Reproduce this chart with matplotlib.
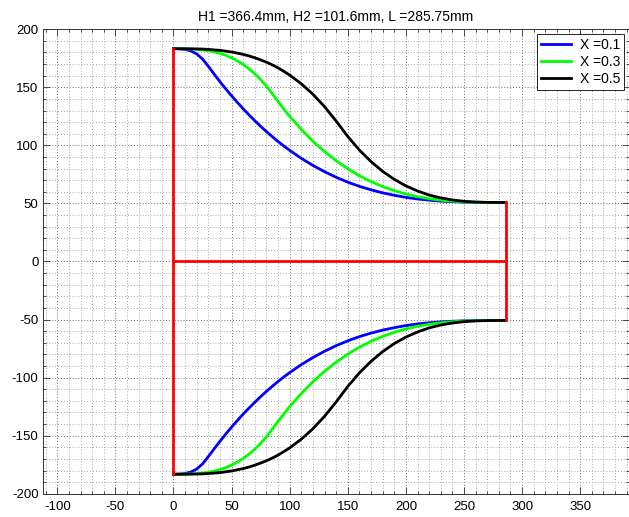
import numpy as np
import matplotlib.pyplot as plt
from matplotlib.ticker import MultipleLocator

plt.rcParams['font.family'] = ['Liberation Sans', 'DejaVu Sans']
plt.rcParams['axes.unicode_minus'] = False

# contraction geometry (mm)
H1 = 366.4
H2 = 101.6
L = 285.75

# stations along the contraction, and upper-wall half height for each match point X
x_pos = [0, 5, 10, 15, 20, 25, 30, 35, 40, 45, 50, 55, 60, 65, 70, 75, 80, 85,
         90, 95, 100, 110, 120, 130, 140, 150, 160, 170, 180, 190, 200, 210,
         220, 230, 240, 250, 260, 270, 280, 285.75]
h_x01 = [183.2, 183.1, 182.6, 181.3, 178.7, 174.3, 168.0, 161.3, 154.8, 148.6,
         142.6, 136.9, 131.4, 126.2, 121.2, 116.4, 111.8, 107.5, 103.3, 99.4,
         95.7, 88.8, 82.7, 77.3, 72.5, 68.3, 64.7, 61.7, 59.1, 57.0,
         55.2, 53.8, 52.8, 52.0, 51.5, 51.1, 50.9, 50.8, 50.8, 50.8]
h_x03 = [183.2, 183.2, 183.1, 183.0, 182.7, 182.2, 181.5, 180.5, 179.2, 177.5,
         175.3, 172.7, 169.6, 165.9, 161.6, 156.6, 150.9, 144.5, 137.7, 131.2,
         125.0, 113.7, 103.5, 94.6, 86.7, 79.8, 73.8, 68.8, 64.5, 61.0,
         58.1, 55.8, 54.1, 52.8, 51.9, 51.3, 51.0, 50.8, 50.8, 50.8]
h_x05 = [183.2, 183.2, 183.2, 183.1, 183.0, 182.9, 182.6, 182.2, 181.8, 181.1,
         180.4, 179.4, 178.3, 177.0, 175.4, 173.6, 171.6, 169.3, 166.7, 163.7,
         160.5, 153.0, 144.0, 133.3, 120.9, 107.6, 95.9, 86.0, 77.6, 70.7,
         65.1, 60.7, 57.2, 54.7, 53.0, 51.8, 51.2, 50.9, 50.8, 50.8]

labels = ['X =0.1', 'X =0.3', 'X =0.5']
colors = ['#0000ff', '#00ff00', '#000000']

fig = plt.figure(figsize=(6.29, 5.17), dpi=100)
ax = fig.add_axes([0.068, 0.045, 0.932, 0.8985])

x = np.array(x_pos)
for h, lab, c in zip([h_x01, h_x03, h_x05], labels, colors):
    ax.plot(x, h, color=c, lw=2.0, label=lab)
    ax.plot(x, -np.array(h), color=c, lw=2.0)

# inlet, centreline and outlet
ax.plot([0, 0], [-H1 / 2, H1 / 2], color='#ff0000', lw=2.0)
ax.plot([0, L], [0, 0], color='#ff0000', lw=2.0)
ax.plot([L, L], [-H2 / 2, H2 / 2], color='#ff0000', lw=2.0)

ax.set_xlim(-112.5, 392)
ax.set_ylim(-200, 200)
ax.xaxis.set_minor_locator(MultipleLocator(10))
ax.yaxis.set_minor_locator(MultipleLocator(10))
ax.set_xticks(np.arange(-100, 351, 50))
ax.set_yticks(np.arange(-200, 201, 50))

ax.grid(True, which='major', color='#6e6e6e', linestyle=(0, (1, 2)), lw=0.7)
ax.grid(True, which='minor', color='#a6a6a6', linestyle=(0, (1, 2)), lw=0.7)
ax.set_axisbelow(True)
ax.tick_params(which='both', direction='in', top=True, right=True,
               labelsize=9.5, width=0.6, color='#333333')
ax.tick_params(which='major', length=5, pad=3)
ax.tick_params(axis='x', which='major', pad=5)
ax.tick_params(which='minor', length=2.5)
for s in ax.spines.values():
    s.set_linewidth(0.7)
    s.set_color('#333333')

ax.set_title('H1 =%.1fmm, H2 =%.1fmm, L =%.2fmm' % (H1, H2, L),
             fontsize=10, pad=6)
leg = ax.legend(loc='upper right', fontsize=10, fancybox=False,
                edgecolor='black', framealpha=1, handlelength=2.2,
                handletextpad=0.6, borderpad=0.3, labelspacing=0.2,
                borderaxespad=0.35)
leg.get_frame().set_linewidth(0.6)

fig.savefig('out.png', dpi=100)
